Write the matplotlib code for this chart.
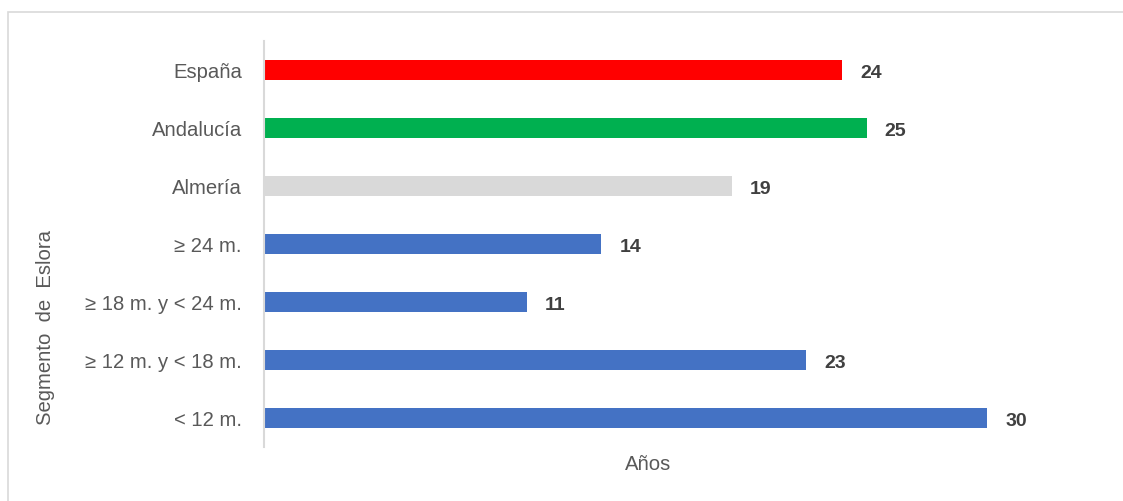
import matplotlib
matplotlib.use('Agg')
import matplotlib.pyplot as plt
from matplotlib.patches import Rectangle

plt.rcParams['font.family'] = ['Liberation Sans', 'DejaVu Sans']

categories = ['España', 'Andalucía', 'Almería', '≥ 24 m.', '≥ 18 m. y < 24 m.',
              '≥ 12 m. y < 18 m.', '< 12 m.']
values = [24.0, 25.0, 19.4, 14.0, 10.9, 22.5, 30.0]
labels = ['24', '25', '19', '14', '11', '23', '30']
colors = ['#FF0000', '#00B050', '#D9D9D9', '#4472C4', '#4472C4', '#4472C4', '#4472C4']

W, H = 1123, 502
fig = plt.figure(figsize=(W / 100, H / 100), dpi=100)
ax = fig.add_axes([264 / W, 1 - 448 / H, 843.5 / W, 406 / H])

y = list(range(len(categories)))
ax.barh(y, values, height=0.345, color=colors)
ax.set_ylim(6.5, -0.5)
ax.set_xlim(0, 35)
ax.set_yticks(y)
ax.set_yticklabels(categories, fontsize=14.6, color='#595959')
ax.tick_params(axis='y', length=0, pad=16)
ax.set_xticks([])
for s in ['top', 'right', 'bottom']:
    ax.spines[s].set_visible(False)
ax.spines['left'].set_color('#D9D9D9')
ax.spines['left'].set_linewidth(1.5)

for yi, v, lab in zip(y, values, labels):
    ax.annotate(lab, (v, yi), xytext=(13, -1.5), textcoords='offset points',
                va='center', ha='left', fontsize=14, fontweight='bold', color='#404040')

fig.text(46 / W, 1 - 328 / H, 'Segmento  de  Eslora', rotation=90, fontsize=14.6,
         color='#595959', ha='center', va='center')
fig.text(648 / W, 1 - 465 / H, 'Años', fontsize=14.6, color='#595959',
         ha='center', va='center')

fig.patches.append(Rectangle((7.5 / W, -0.1), 1.2, 1 - 12.5 / H + 0.1,
                             transform=fig.transFigure, fill=False,
                             edgecolor='#D9D9D9', linewidth=1.2, clip_on=False))

fig.savefig('out.png', dpi=100)
